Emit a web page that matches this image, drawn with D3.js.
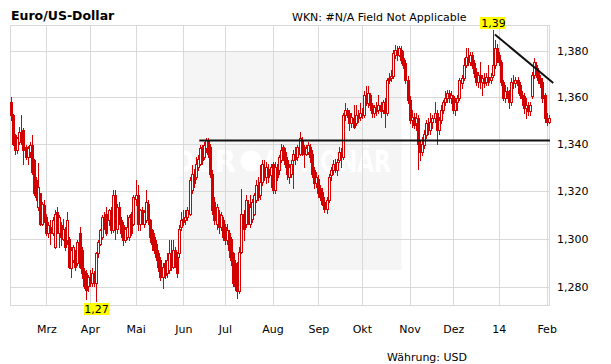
<!DOCTYPE html>
<html><head><meta charset="utf-8">
<script src="https://cdn.jsdelivr.net/npm/d3@7"></script>
<style>
body{margin:0;background:#fff}
svg{display:block}
text{font-family:"DejaVu Sans",Verdana,sans-serif}
</style>
</head><body><svg id="c" width="611" height="364"></svg>
<script>
const titleText = "Euro/US-Dollar";
const subtitleText = "WKN: #N/A Field Not Applicable";
const currencyText = "Währung: USD";
const watermarkWords = ["DER", "AKTIONÄR"];
const startDate = "2013-02-06";
const monthLabels = ["Mrz","Apr","Mai","Jun","Jul","Aug","Sep","Okt","Nov","Dez","14","Feb"];
const yTicks = [1.28, 1.30, 1.32, 1.34, 1.36, 1.38];
const yDomain = [1.2727, 1.3917];

const open = [1.3581,1.3523,1.3436,1.3371,1.3407,1.3451,1.3458,1.3386,1.3343,1.3364,
1.3393,1.3329,1.3244,1.3131,1.3189,1.3062,1.3139,1.3089,1.3021,1.3048,
1.3021,1.2966,1.3110,1.3021,1.3055,1.3000,1.3034,1.2993,1.3000,1.2877,
1.2911,1.2938,1.2897,1.3021,1.2952,1.2864,1.2857,1.2803,1.2843,1.2816,
1.2850,1.2816,1.2938,1.2979,1.3007,1.3082,1.3103,1.3075,1.3089,1.3034,
1.3181,1.3041,1.3131,1.3075,1.3055,1.2993,1.3007,1.3007,1.3103,1.3062,
1.3167,1.3181,1.3062,1.3117,1.3062,1.3075,1.3146,1.3075,1.3034,1.3007,
1.2979,1.2938,1.2911,1.2843,1.2897,1.2857,1.2870,1.2938,1.2884,1.2952,
1.2925,1.2938,1.3048,1.3082,1.3075,1.3089,1.3103,1.3203,1.3272,1.3258,
1.3300,1.3314,1.3386,1.3343,1.3379,1.3414,1.3386,1.3272,1.3153,1.3062,
1.3103,1.3048,1.3075,1.3048,1.2993,1.3021,1.3000,1.2938,1.2843,1.2897,
1.2786,1.2945,1.3103,1.3062,1.3146,1.3062,1.3082,1.3103,1.3160,1.3217,
1.3181,1.3237,1.3300,1.3258,1.3293,1.3265,1.3314,1.3203,1.3300,1.3286,
1.3329,1.3386,1.3364,1.3329,1.3258,1.3272,1.3329,1.3357,1.3343,1.3357,
1.3414,1.3386,1.3357,1.3364,1.3386,1.3357,1.3286,1.3231,1.3251,1.3210,
1.3196,1.3153,1.3124,1.3160,1.3265,1.3286,1.3314,1.3286,1.3329,1.3364,
1.3343,1.3523,1.3545,1.3530,1.3487,1.3509,1.3487,1.3523,1.3516,1.3530,
1.3523,1.3610,1.3574,1.3610,1.3567,1.3530,1.3559,1.3545,1.3567,1.3545,
1.3574,1.3530,1.3684,1.3684,1.3691,1.3786,1.3800,1.3786,1.3807,1.3771,
1.3749,1.3676,1.3588,1.3501,1.3516,1.3487,1.3509,1.3400,1.3364,1.3393,
1.3436,1.3487,1.3458,1.3494,1.3509,1.3530,1.3458,1.3501,1.3545,1.3581,
1.3596,1.3618,1.3596,1.3603,1.3545,1.3581,1.3596,1.3661,1.3683,1.3741,
1.3777,1.3755,1.3784,1.3748,1.3711,1.3668,1.3697,1.3668,1.3683,1.3668,
1.3690,1.3675,1.3697,1.3741,1.3813,1.3784,1.3755,1.3668,1.3596,1.3625,
1.3610,1.3581,1.3668,1.3661,1.3675,1.3654,1.3610,1.3603,1.3552,1.3567,
1.3538,1.3603,1.3697,1.3741,1.3704,1.3683,1.3668,1.3610,1.3509,1.3494];

const high = [1.3600,1.3526,1.3443,1.3429,1.3472,1.3523,1.3465,1.3393,1.3390,1.3407,
1.3436,1.3336,1.3258,1.3317,1.3189,1.3153,1.3160,1.3103,1.3068,1.3075,
1.3089,1.3117,1.3131,1.3096,1.3068,1.3082,1.3048,1.3110,1.3007,1.2966,
1.2973,1.2952,1.2993,1.3048,1.2966,1.2877,1.2870,1.2850,1.2870,1.2877,
1.2864,1.2945,1.2993,1.3041,1.3096,1.3110,1.3131,1.3124,1.3131,1.3203,
1.3203,1.3146,1.3153,1.3089,1.3068,1.3048,1.3096,1.3096,1.3110,1.3181,
1.3244,1.3223,1.3124,1.3131,1.3117,1.3203,1.3160,1.3082,1.3041,1.3021,
1.2993,1.2952,1.2925,1.2897,1.2911,1.2938,1.2993,1.2993,1.2993,1.2966,
1.2945,1.3055,1.3110,1.3117,1.3117,1.3131,1.3258,1.3307,1.3293,1.3343,
1.3350,1.3393,1.3393,1.3407,1.3422,1.3422,1.3400,1.3286,1.3174,1.3146,
1.3117,1.3110,1.3089,1.3062,1.3062,1.3034,1.3007,1.2945,1.2911,1.2904,
1.2966,1.3206,1.3117,1.3181,1.3160,1.3181,1.3167,1.3189,1.3244,1.3258,
1.3307,1.3329,1.3329,1.3322,1.3314,1.3314,1.3322,1.3322,1.3314,1.3350,
1.3400,1.3393,1.3379,1.3343,1.3314,1.3329,1.3371,1.3386,1.3393,1.3449,
1.3429,1.3393,1.3393,1.3407,1.3400,1.3371,1.3300,1.3279,1.3265,1.3224,
1.3210,1.3174,1.3174,1.3272,1.3300,1.3329,1.3336,1.3336,1.3386,1.3379,
1.3530,1.3574,1.3552,1.3545,1.3530,1.3567,1.3567,1.3545,1.3574,1.3552,
1.3625,1.3647,1.3647,1.3618,1.3574,1.3567,1.3581,1.3610,1.3581,1.3588,
1.3596,1.3684,1.3706,1.3720,1.3807,1.3829,1.3822,1.3822,1.3822,1.3800,
1.3764,1.3691,1.3603,1.3545,1.3530,1.3530,1.3523,1.3414,1.3429,1.3458,
1.3501,1.3509,1.3530,1.3523,1.3581,1.3545,1.3516,1.3567,1.3588,1.3625,
1.3632,1.3632,1.3625,1.3610,1.3596,1.3610,1.3683,1.3697,1.3770,1.3813,
1.3813,1.3799,1.3799,1.3762,1.3726,1.3711,1.3755,1.3697,1.3704,1.3704,
1.3741,1.3704,1.3893,1.3849,1.3835,1.3799,1.3762,1.3675,1.3654,1.3646,
1.3632,1.3683,1.3697,1.3690,1.3690,1.3668,1.3625,1.3617,1.3596,1.3581,
1.3581,1.3711,1.3770,1.3755,1.3726,1.3697,1.3683,1.3617,1.3530,1.3523];

const low = [1.3501,1.3393,1.3357,1.3360,1.3400,1.3400,1.3314,1.3336,1.3314,1.3343,
1.3272,1.3181,1.3160,1.3117,1.3055,1.3055,1.3068,1.3014,1.3007,1.2979,
1.3014,1.2960,1.3021,1.2966,1.2973,1.2993,1.2952,1.2979,1.2877,1.2843,
1.2904,1.2870,1.2890,1.2877,1.2836,1.2796,1.2750,1.2782,1.2803,1.2803,
1.2803,1.2745,1.2925,1.2973,1.3000,1.3041,1.3014,1.3055,1.3021,1.3027,
1.3000,1.3021,1.3062,1.3007,1.2973,1.2986,1.3000,1.2993,1.3014,1.3055,
1.3139,1.3034,1.3034,1.3062,1.3048,1.3068,1.3062,1.2986,1.2952,1.2938,
1.2911,1.2864,1.2830,1.2796,1.2836,1.2843,1.2857,1.2870,1.2877,1.2884,
1.2843,1.2925,1.3034,1.3055,1.3062,1.3075,1.3096,1.3189,1.3217,1.3251,
1.3286,1.3307,1.3314,1.3336,1.3364,1.3343,1.3258,1.3103,1.3062,1.3041,
1.3021,1.3034,1.2993,1.2979,1.2979,1.2925,1.2890,1.2803,1.2789,1.2755,
1.2775,1.2938,1.2993,1.3048,1.3062,1.3048,1.3068,1.3096,1.3153,1.3160,
1.3167,1.3224,1.3244,1.3231,1.3237,1.3217,1.3189,1.3189,1.3244,1.3272,
1.3322,1.3329,1.3300,1.3251,1.3231,1.3258,1.3210,1.3314,1.3329,1.3350,
1.3350,1.3300,1.3350,1.3357,1.3322,1.3258,1.3210,1.3217,1.3174,1.3160,
1.3139,1.3110,1.3105,1.3153,1.3244,1.3272,1.3279,1.3265,1.3322,1.3300,
1.3336,1.3501,1.3516,1.3458,1.3472,1.3465,1.3480,1.3494,1.3501,1.3509,
1.3516,1.3567,1.3559,1.3545,1.3516,1.3516,1.3523,1.3530,1.3516,1.3530,
1.3472,1.3523,1.3662,1.3669,1.3684,1.3771,1.3764,1.3778,1.3749,1.3727,
1.3662,1.3574,1.3487,1.3472,1.3465,1.3458,1.3293,1.3329,1.3350,1.3379,
1.3422,1.3443,1.3443,1.3465,1.3494,1.3400,1.3443,1.3487,1.3530,1.3567,
1.3581,1.3581,1.3574,1.3530,1.3523,1.3545,1.3588,1.3639,1.3675,1.3733,
1.3741,1.3741,1.3726,1.3690,1.3654,1.3646,1.3639,1.3610,1.3646,1.3654,
1.3654,1.3661,1.3690,1.3726,1.3755,1.3741,1.3654,1.3588,1.3581,1.3596,
1.3552,1.3567,1.3639,1.3646,1.3617,1.3596,1.3567,1.3530,1.3509,1.3523,
1.3523,1.3596,1.3683,1.3690,1.3661,1.3646,1.3581,1.3494,1.3480,1.3487];

const close = [1.3523,1.3400,1.3371,1.3422,1.3451,1.3407,1.3371,1.3343,1.3379,1.3393,
1.3279,1.3189,1.3174,1.3217,1.3062,1.3146,1.3075,1.3021,1.3055,1.3021,
1.3075,1.3103,1.3034,1.3089,1.3007,1.3041,1.2966,1.3075,1.2884,1.2952,
1.2966,1.2884,1.2986,1.2884,1.2857,1.2803,1.2789,1.2843,1.2816,1.2857,
1.2816,1.2938,1.2986,1.3034,1.3089,1.3062,1.3021,1.3117,1.3034,1.3181,
1.3062,1.3131,1.3075,1.3021,1.2993,1.3041,1.3048,1.3089,1.3021,1.3174,
1.3181,1.3062,1.3117,1.3075,1.3110,1.3153,1.3075,1.3007,1.2979,1.2952,
1.2925,1.2884,1.2843,1.2884,1.2850,1.2911,1.2938,1.2884,1.2952,1.2897,
1.2857,1.3041,1.3075,1.3068,1.3089,1.3117,1.3244,1.3272,1.3231,1.3314,
1.3336,1.3379,1.3329,1.3393,1.3414,1.3357,1.3272,1.3117,1.3075,1.3131,
1.3048,1.3096,1.3007,1.2993,1.3034,1.2952,1.2911,1.2816,1.2803,1.2786,
1.2945,1.3103,1.3041,1.3160,1.3075,1.3131,1.3153,1.3181,1.3224,1.3174,
1.3237,1.3314,1.3258,1.3300,1.3258,1.3300,1.3203,1.3300,1.3258,1.3343,
1.3371,1.3343,1.3314,1.3272,1.3300,1.3314,1.3357,1.3336,1.3386,1.3422,
1.3371,1.3357,1.3379,1.3393,1.3343,1.3272,1.3231,1.3258,1.3189,1.3174,
1.3146,1.3124,1.3160,1.3258,1.3286,1.3314,1.3293,1.3322,1.3364,1.3343,
1.3523,1.3545,1.3530,1.3487,1.3516,1.3472,1.3523,1.3509,1.3530,1.3523,
1.3610,1.3581,1.3618,1.3567,1.3530,1.3559,1.3538,1.3567,1.3538,1.3581,
1.3530,1.3676,1.3676,1.3691,1.3793,1.3807,1.3786,1.3814,1.3764,1.3742,
1.3676,1.3588,1.3501,1.3516,1.3479,1.3509,1.3400,1.3364,1.3400,1.3443,
1.3487,1.3458,1.3494,1.3509,1.3530,1.3458,1.3501,1.3545,1.3581,1.3596,
1.3618,1.3596,1.3610,1.3545,1.3581,1.3596,1.3675,1.3683,1.3741,1.3777,
1.3755,1.3784,1.3741,1.3704,1.3668,1.3697,1.3668,1.3683,1.3661,1.3690,
1.3668,1.3690,1.3741,1.3813,1.3770,1.3755,1.3668,1.3596,1.3625,1.3610,
1.3581,1.3668,1.3661,1.3675,1.3654,1.3610,1.3596,1.3552,1.3567,1.3538,
1.3567,1.3697,1.3755,1.3704,1.3675,1.3661,1.3596,1.3509,1.3494,1.3509];

// trend lines: [day index, value]
const supportLine = [[90.7, 1.3413], [259.6, 1.3413]];
const resistanceLine = [[233.1, 1.3875], [261.2, 1.3662]];

const N = close.length;
const dates = [];
{
  const d = new Date(startDate + "T00:00:00Z");
  while (dates.length < N) {
    const wd = d.getUTCDay();
    if (wd !== 0 && wd !== 6) dates.push(new Date(d));
    d.setUTCDate(d.getUTCDate() + 1);
  }
}
const tickIdx = [];
for (let i = 1; i < N; i++) if (dates[i].getUTCMonth() !== dates[i-1].getUTCMonth()) tickIdx.push(i);

const L = 10, R = 550, T = 25, B = 305;
const RED = "#d20000", GRID = "#d9d9d9";
const svg = d3.select("#c");
const x = d3.scaleLinear().domain([0, N - 1]).range([11, 548.7]);
const y = d3.scaleLog().domain(yDomain).range([B, T]);
const px = v => Math.round(v) + 0.5;

// watermark
const defs = svg.append("defs");
defs.append("clipPath").attr("id", "wm").append("rect")
  .attr("x", 183.5).attr("y", 52).attr("width", 218).attr("height", 218);
svg.append("rect").attr("x", 183.5).attr("y", 52).attr("width", 218).attr("height", 218).attr("fill", "#f5f5f5");
const wm = svg.append("g").attr("clip-path", "url(#wm)");
wm.append("text").attr("x", 236).attr("y", 172).attr("text-anchor", "end")
  .attr("font-size", 30).attr("font-weight", "bold").attr("fill", "#fff")
  .attr("textLength", 64).attr("lengthAdjust", "spacingAndGlyphs").text(watermarkWords[0]);
wm.append("circle").attr("cx", 251).attr("cy", 161).attr("r", 10.5).attr("fill", "#fff");
wm.append("text").attr("x", 263).attr("y", 172)
  .attr("font-size", 30).attr("font-weight", "bold").attr("fill", "#fff")
  .attr("textLength", 128).attr("lengthAdjust", "spacingAndGlyphs").text(watermarkWords[1]);

// grid
const grid = svg.append("g").attr("stroke", GRID).attr("stroke-width", 1);
grid.selectAll(".vg").data(tickIdx).join("line")
  .attr("x1", d => px(x(d))).attr("x2", d => px(x(d))).attr("y1", T).attr("y2", B);
grid.selectAll(".hg").data(yTicks).join("line")
  .attr("x1", L).attr("x2", R).attr("y1", d => px(y(d))).attr("y2", d => px(y(d)));
grid.append("rect").attr("x", L + 0.5).attr("y", T + 0.5).attr("width", R - L - 1).attr("height", B - T)
  .attr("fill", "none");

// axes (labels)
const fmt3 = d => d3.format(".3f")(d).replace(".", ",");
const fmt2 = d => d3.format(".2f")(d).replace(".", ",");
const gx = svg.append("g").attr("transform", `translate(0,${B})`)
  .call(d3.axisBottom(x).tickValues(tickIdx).tickFormat((d, i) => monthLabels[i]).tickSize(0).tickPadding(20));
const gy = svg.append("g").attr("transform", `translate(${R},0)`)
  .call(d3.axisRight(y).tickValues(yTicks).tickFormat(fmt3).tickSize(0).tickPadding(7));
[gx, gy].forEach(g => {
  g.select(".domain").remove();
  g.selectAll("text").attr("font-size", 11).attr("fill", "#000").attr("font-family", '"DejaVu Sans",Verdana,sans-serif');
});

// candles
const idx = d3.range(N);
const cg = svg.append("g");
cg.selectAll(".wick").data(idx).join("line")
  .attr("x1", i => Math.round(x(i)) + 0.5).attr("x2", i => Math.round(x(i)) + 0.5)
  .attr("y1", i => Math.round(y(high[i]))).attr("y2", i => Math.round(y(low[i])) + 1)
  .attr("stroke", RED).attr("stroke-width", 1);
cg.selectAll(".body").data(idx).join("rect")
  .attr("x", i => Math.round(x(i)) - 1 + 0.5)
  .attr("y", i => Math.round(y(Math.max(open[i], close[i]))) + 0.5)
  .attr("width", 2)
  .attr("height", i => Math.max(0, Math.round(y(Math.min(open[i], close[i]))) - Math.round(y(Math.max(open[i], close[i])))))
  .attr("fill", i => close[i] >= open[i] ? "#fff" : RED)
  .attr("stroke", RED).attr("stroke-width", 1);

// trend lines
const line = d3.line().x(d => x(d[0])).y(d => y(d[1]));
svg.append("path").attr("d", line(supportLine)).attr("stroke", "#111").attr("stroke-width", 2).attr("fill", "none");
svg.append("path").attr("d", line(resistanceLine)).attr("stroke", "#111").attr("stroke-width", 2).attr("fill", "none");

// high / low labels
const iMax = d3.maxIndex(high), iMin = d3.minIndex(low);
function tag(i, v, above) {
  const cx = x(i);
  const w = 25, h = 12;
  const top = above ? Math.round(y(v)) - h - 1 : Math.round(y(v)) + 2;
  const g = svg.append("g");
  g.append("rect").attr("x", Math.round(cx - w / 2)).attr("y", top).attr("width", w).attr("height", h).attr("fill", "#ffff00");
  g.append("text").attr("x", Math.round(cx) + 0.5).attr("y", top + 10).attr("text-anchor", "middle")
    .attr("font-size", 11).attr("fill", "#000").text(fmt2(v));
}
tag(iMax, high[iMax], true);
tag(iMin, low[iMin], false);

// titles
svg.append("text").attr("x", 11).attr("y", 20).attr("font-size", 12.5).attr("font-weight", "bold").attr("fill", "#000").text(titleText);
svg.append("text").attr("x", 292).attr("y", 20.5).attr("font-size", 11).attr("fill", "#000").text(subtitleText);
svg.append("text").attr("x", 387).attr("y", 361).attr("font-size", 11).attr("fill", "#000").text(currencyText);
</script>
</body></html>
